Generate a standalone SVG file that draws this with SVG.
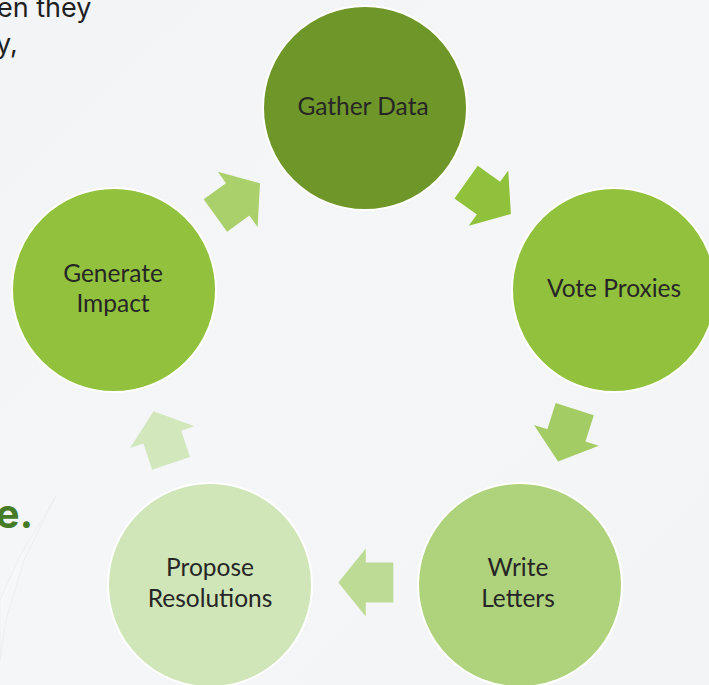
<svg xmlns="http://www.w3.org/2000/svg" width="709" height="685" viewBox="0 0 709 685">
  <defs>
    <linearGradient id="bg" x1="0" y1="0" x2="1" y2="1">
      <stop offset="0" stop-color="#f3f4f6"/>
      <stop offset="0.5" stop-color="#f5f6f8"/>
      <stop offset="1" stop-color="#f2f4f6"/>
    </linearGradient>
    <linearGradient id="feather" x1="0" y1="0" x2="1" y2="1">
      <stop offset="0" stop-color="#ffffff" stop-opacity="0.9"/>
      <stop offset="1" stop-color="#e9ebed" stop-opacity="0.5"/>
    </linearGradient>
    <path id="arw" d="M-27.5,-20 L0,-20 L0,-34 L27.5,0 L0,34 L0,20 L-27.5,20 Z"/>
    <style>
      .node { stroke: #ffffff; stroke-width: 2; }
      .lbl { font-family: Lato, "Open Sans", "Liberation Sans", sans-serif; font-size: 24.5px; fill: #262626; text-anchor: middle; }
      .top { font-family: Inter, "Noto Sans", "Liberation Sans", sans-serif; font-size: 27px; fill: #1f1f1f; }
      .head { font-family: Inter, "Noto Sans", "Liberation Sans", sans-serif; font-size: 40px; font-weight: bold; fill: #457a27; }
    </style>
  </defs>

  <rect width="709" height="685" fill="url(#bg)"/>
  <path d="M56,496 L24,560 L6,620 L0,660 L0,600 L20,556 Z" fill="url(#feather)" stroke="#e8eaec" stroke-width="0.6"/>

  <text class="top" x="-3" y="17">en they</text>
  <text class="top" x="-4" y="53">y,</text>
  <text class="head" x="33" y="528" text-anchor="end">e.</text>

  <g id="connectors">
    <use href="#arw" fill="#a9d06b" transform="translate(237.7,199.4) rotate(-35.8)"/>
    <use href="#arw" fill="#8fc13a" transform="translate(488.5,198.1) rotate(35.5)"/>
    <use href="#arw" fill="#a4cc65" transform="translate(566.4,435.4) rotate(107.7)"/>
    <use href="#arw" fill="#bedb95" transform="translate(365.8,582.5) rotate(180)"/>
    <use href="#arw" fill="#d3e7bc" transform="translate(162.3,437.2) rotate(-108.6)"/>
  </g>

  <g id="gather-data">
    <circle class="node" cx="365" cy="108" r="102" fill="#6f9628"/>
    <text class="lbl" x="363" y="115">Gather Data</text>
  </g>
  <g id="vote-proxies">
    <circle class="node" cx="614" cy="290" r="102" fill="#91c13d"/>
    <text class="lbl" x="614" y="297">Vote Proxies</text>
  </g>
  <g id="write-letters">
    <circle class="node" cx="520" cy="585" r="102" fill="#afd27d"/>
    <text class="lbl" x="518" y="576">Write</text>
    <text class="lbl" x="518" y="607">Letters</text>
  </g>
  <g id="propose-resolutions">
    <circle class="node" cx="210" cy="585" r="102" fill="#d0e5b8"/>
    <text class="lbl" x="210" y="576">Propose</text>
    <text class="lbl" x="210" y="607">Resolutions</text>
  </g>
  <g id="generate-impact">
    <circle class="node" cx="114" cy="290" r="102" fill="#91c13d"/>
    <text class="lbl" x="113" y="282">Generate</text>
    <text class="lbl" x="113" y="312">Impact</text>
  </g>
</svg>
